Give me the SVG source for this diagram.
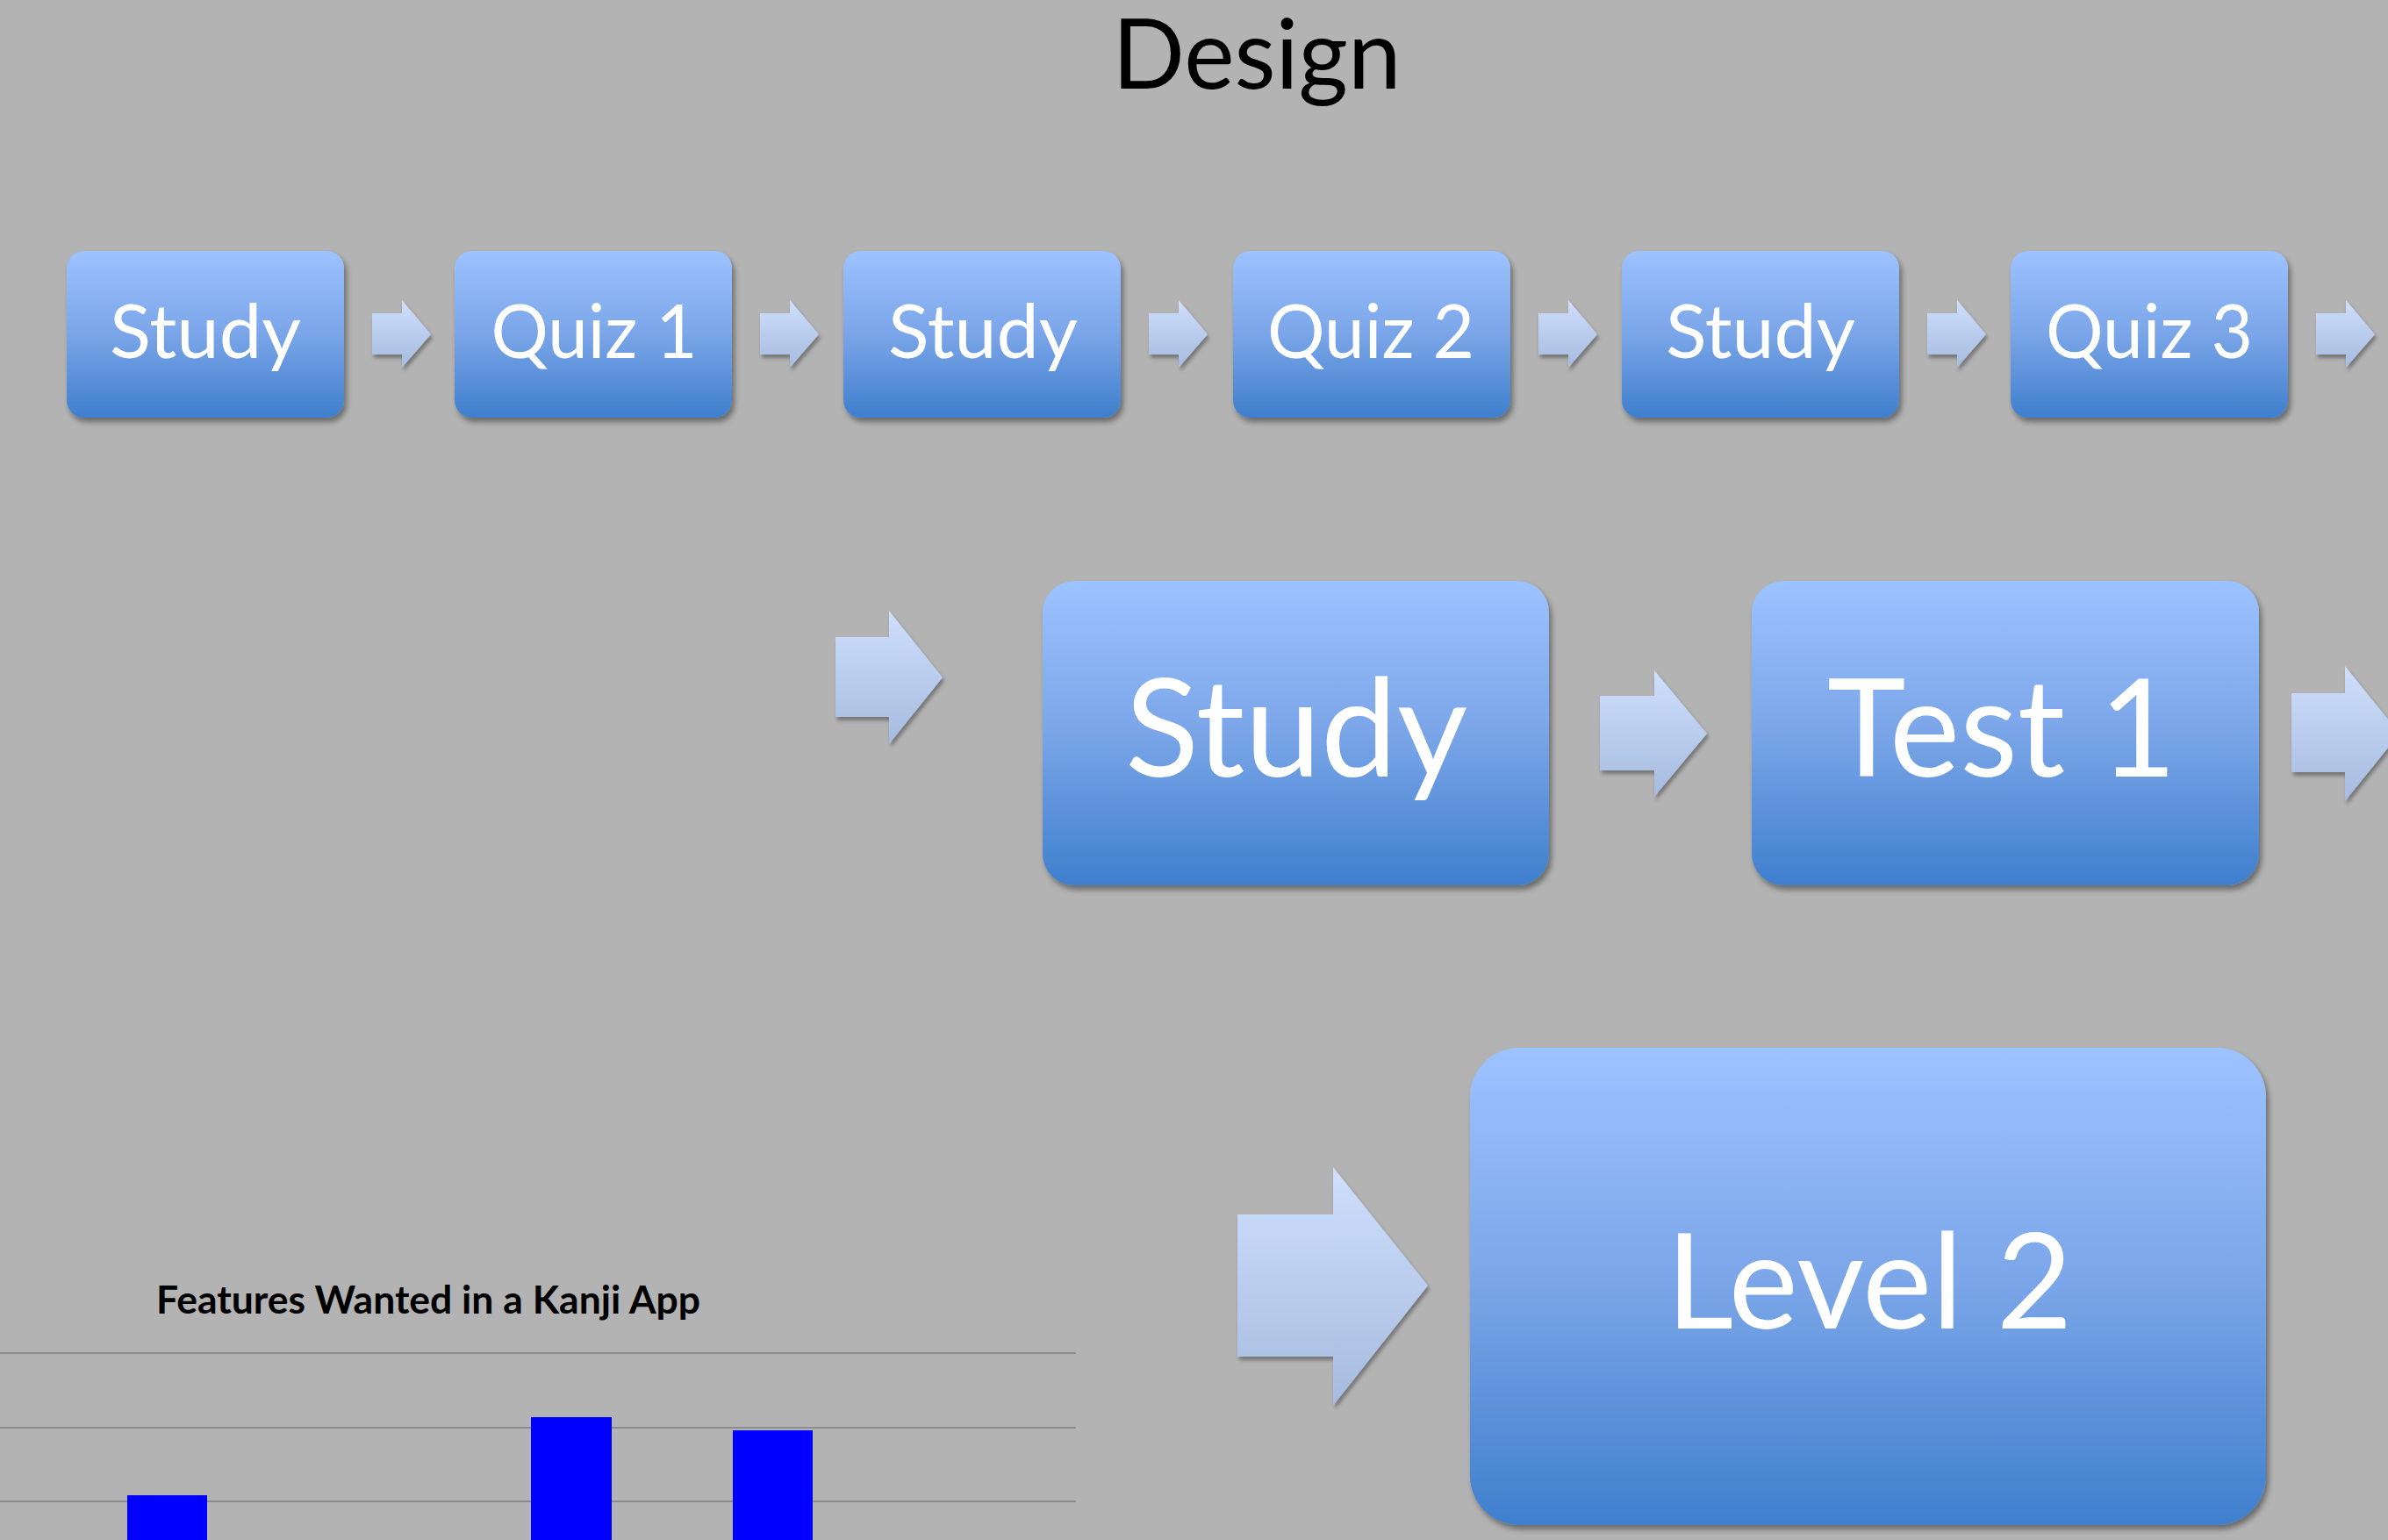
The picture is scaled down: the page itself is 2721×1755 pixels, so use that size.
<svg xmlns="http://www.w3.org/2000/svg" width="2721" height="1755" viewBox="0 0 2721 1755">
<defs>
<linearGradient id="boxGrad" x1="0" y1="0" x2="0" y2="1">
<stop offset="0" stop-color="#9dc3ff"/>
<stop offset="0.5" stop-color="#7aa5e8"/>
<stop offset="1" stop-color="#3f7fcd"/>
</linearGradient>
<linearGradient id="arrGrad" x1="0" y1="0" x2="0" y2="1">
<stop offset="0" stop-color="#cfdffd"/>
<stop offset="1" stop-color="#a6bbdf"/>
</linearGradient>
<filter id="sh" x="-10%" y="-10%" width="125%" height="125%">
<feDropShadow dx="3" dy="5" stdDeviation="3" flood-color="#000" flood-opacity="0.4"/>
</filter>
<filter id="ash" x="-10%" y="-10%" width="125%" height="125%">
<feDropShadow dx="2" dy="4" stdDeviation="2" flood-color="#000" flood-opacity="0.35"/>
</filter>
</defs>
<style>
.box{fill:url(#boxGrad);filter:url(#sh);}
.arr{fill:url(#arrGrad);filter:url(#ash);}
.lbl{font-family:Lato,"Open Sans",sans-serif;fill:#fff;text-anchor:middle;}
.s{font-size:86px;}
.m{font-size:156px;}
.l{font-size:151px;}
.grid{stroke:#8c8c8c;stroke-width:2;}
.bar{fill:#0000ff;}
</style>
<rect width="2721" height="1755" fill="#b3b3b3"/>
<text x="1432" y="101" font-family="Lato,'Open Sans',sans-serif" font-size="110" fill="#000" text-anchor="middle" textLength="329" lengthAdjust="spacingAndGlyphs">Design</text>

<g id="connectors">
<polygon class="arr" points="424,357 458,357 458,342 491,381 458,419 458,404 424,404"/>
<polygon class="arr" points="866,357 900,357 900,342 933,381 900,419 900,404 866,404"/>
<polygon class="arr" points="1309,357 1343,357 1343,342 1376,381 1343,419 1343,404 1309,404"/>
<polygon class="arr" points="1753,357 1787,357 1787,342 1820,381 1787,419 1787,404 1753,404"/>
<polygon class="arr" points="2196,357 2230,357 2230,342 2263,381 2230,419 2230,404 2196,404"/>
<polygon class="arr" points="2639,357 2673,357 2673,342 2706,381 2673,419 2673,404 2639,404"/>
<polygon class="arr" points="952,726 1013,726 1013,696 1074,772 1013,848 1013,817 952,817"/>
<polygon class="arr" points="1823,793 1885,793 1885,764 1945,836 1885,908 1885,878 1823,878"/>
<polygon class="arr" points="2611,790 2672,790 2672,759 2734,836 2672,913 2672,880 2611,880"/>
<polygon class="arr" points="1410,1384 1519,1384 1519,1330 1627,1465 1519,1602 1519,1546 1410,1546"/>
</g>

<g id="n1"><rect class="box" x="76" y="286" width="316" height="190" rx="20"/><text class="lbl s" x="234" y="408" textLength="218" lengthAdjust="spacingAndGlyphs">Study</text></g>
<g id="n2"><rect class="box" x="518" y="286" width="316" height="190" rx="20"/><text class="lbl s" x="677" y="408" textLength="235" lengthAdjust="spacingAndGlyphs">Quiz 1</text></g>
<g id="n3"><rect class="box" x="961" y="286" width="316" height="190" rx="20"/><text class="lbl s" x="1120" y="408" textLength="216" lengthAdjust="spacingAndGlyphs">Study</text></g>
<g id="n4"><rect class="box" x="1405" y="286" width="316" height="190" rx="20"/><text class="lbl s" x="1562" y="408" textLength="236" lengthAdjust="spacingAndGlyphs">Quiz 2</text></g>
<g id="n5"><rect class="box" x="1848" y="286" width="316" height="190" rx="20"/><text class="lbl s" x="2006" y="408" textLength="216" lengthAdjust="spacingAndGlyphs">Study</text></g>
<g id="n6"><rect class="box" x="2291" y="286" width="316" height="190" rx="20"/><text class="lbl s" x="2449" y="408" textLength="236" lengthAdjust="spacingAndGlyphs">Quiz 3</text></g>

<g id="n7"><rect class="box" x="1188" y="662" width="577" height="347" rx="36"/><text class="lbl m" x="1477" y="885" textLength="390" lengthAdjust="spacingAndGlyphs">Study</text></g>
<g id="n8"><rect class="box" x="1996" y="662" width="578" height="347" rx="36"/><text class="lbl m" x="2281" y="885" textLength="398" lengthAdjust="spacingAndGlyphs">Test 1</text></g>

<g id="n9"><rect class="box" x="1675" y="1194" width="907" height="544" rx="56"/><text class="lbl l" x="2130" y="1514" textLength="463" lengthAdjust="spacingAndGlyphs">Level 2</text></g>

<g id="chart">
<text x="178" y="1497" font-family="Lato,'Open Sans',sans-serif" font-weight="bold" font-size="43" fill="#000" textLength="620" lengthAdjust="spacingAndGlyphs">Features Wanted in a Kanji App</text>
<line class="grid" x1="0" y1="1542" x2="1226" y2="1542"/>
<line class="grid" x1="0" y1="1627" x2="1226" y2="1627"/>
<line class="grid" x1="0" y1="1711" x2="1226" y2="1711"/>
<rect class="bar" x="145" y="1704" width="91" height="51"/>
<rect class="bar" x="605" y="1615" width="92" height="140"/>
<rect class="bar" x="835" y="1630" width="91" height="125"/>
</g>
</svg>
